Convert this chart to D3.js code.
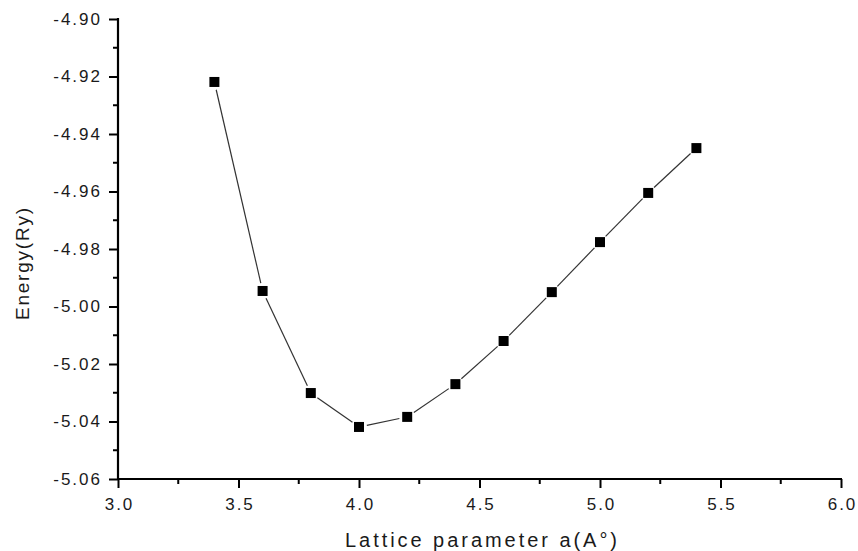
<!DOCTYPE html>
<html><head><meta charset="utf-8">
<script src="https://cdn.jsdelivr.net/npm/d3@7"></script>
<style>body{margin:0;background:#fff}svg{display:block}text{font-family:"Liberation Sans",Arial,sans-serif;fill:#1a1a1a}</style>
</head><body><svg id="c" width="858" height="551"></svg>
<script>
const latticeA = [3.4, 3.6, 3.8, 4.0, 4.2, 4.4, 4.6, 4.8, 5.0, 5.2, 5.4];
const energyRy = [-4.9219, -4.9946, -5.0301, -5.0419, -5.0384, -5.0270, -5.0120, -4.9950, -4.9776, -4.9605, -4.9449];
const xTicks = [3.0, 3.5, 4.0, 4.5, 5.0, 5.5, 6.0];
const yTicks = [-4.90, -4.92, -4.94, -4.96, -4.98, -5.00, -5.02, -5.04, -5.06];
const xLabel = "Lattice parameter a(A°)";
const yLabel = "Energy(Ry)";

const svg = d3.select("#c");
const x = d3.scaleLinear().domain([3.0, 6.0]).range([118, 841]);
const y = d3.scaleLinear().domain([-5.06, -4.90]).range([479, 19]);

const xMinor = d3.range(3.25, 6.0, 0.5);
const yMinor = d3.range(-5.05, -4.90, 0.02);

svg.append("g").selectAll("line").data(xMinor).join("line")
  .attr("x1", d => x(d)).attr("x2", d => x(d)).attr("y1", 479).attr("y2", 484)
  .attr("stroke", "#000").attr("stroke-width", 2);
svg.append("g").selectAll("line").data(yMinor).join("line")
  .attr("y1", d => y(d)).attr("y2", d => y(d)).attr("x1", 118).attr("x2", 113)
  .attr("stroke", "#000").attr("stroke-width", 2);

const xAxis = svg.append("g").attr("transform", "translate(0,479)")
  .call(d3.axisBottom(x).tickValues(xTicks).tickFormat(d3.format(".1f")).tickSize(9).tickPadding(6));
const yAxis = svg.append("g").attr("transform", "translate(118,0)")
  .call(d3.axisLeft(y).tickValues(yTicks).tickFormat(d3.format(".2f")).tickSize(9).tickPadding(9));
[xAxis, yAxis].forEach(g => {
  g.select(".domain").attr("stroke", "#000").attr("stroke-width", 2.2);
  g.selectAll(".tick line").attr("stroke", "#000").attr("stroke-width", 2);
  g.selectAll(".tick text").attr("font-size", 17).attr("fill", "#1a1a1a");
});
xAxis.select(".domain").attr("d", "M118,0H842");
yAxis.select(".domain").attr("d", "M0,480V18");
yAxis.selectAll(".tick text").text(d => d3.format(".2f")(d).replace("−", "-"));
xAxis.selectAll(".tick text").attr("dy", "0.95em");
// widen tick labels (reference glyphs are spaced wider)
svg.selectAll(".tick text").each(function() {
  const t = d3.select(this);
  const n = t.text().length;
  const w = this.getComputedTextLength();
  t.attr("textLength", w + 2 * (n - 1)).attr("lengthAdjust", "spacing");
});

const pts = latticeA.map((a, i) => [x(a), y(energyRy[i])]);
const gap = 8;
const segs = d3.pairs(pts).map(([p, q]) => {
  const dx = q[0] - p[0], dy = q[1] - p[1], L = Math.hypot(dx, dy);
  const ux = dx / L, uy = dy / L;
  return [p[0] + ux * gap, p[1] + uy * gap, q[0] - ux * gap, q[1] - uy * gap];
});
svg.append("g").selectAll("line").data(segs).join("line")
  .attr("x1", d => d[0]).attr("y1", d => d[1]).attr("x2", d => d[2]).attr("y2", d => d[3])
  .attr("stroke", "#333").attr("stroke-width", 1.2);

const ms = 10;
svg.append("g").selectAll("rect").data(latticeA).join("rect")
  .attr("x", (d, i) => x(d) - ms / 2).attr("y", (d, i) => y(energyRy[i]) - ms / 2)
  .attr("width", ms).attr("height", ms).attr("fill", "#000");

svg.append("text").attr("x", 345).attr("y", 547).attr("font-size", 20)
  .attr("textLength", 272).attr("lengthAdjust", "spacing").text(xLabel);
svg.append("text").attr("transform", "translate(29,320) rotate(-90)").attr("font-size", 19)
  .attr("textLength", 112).attr("lengthAdjust", "spacing").text(yLabel);
</script></body></html>
